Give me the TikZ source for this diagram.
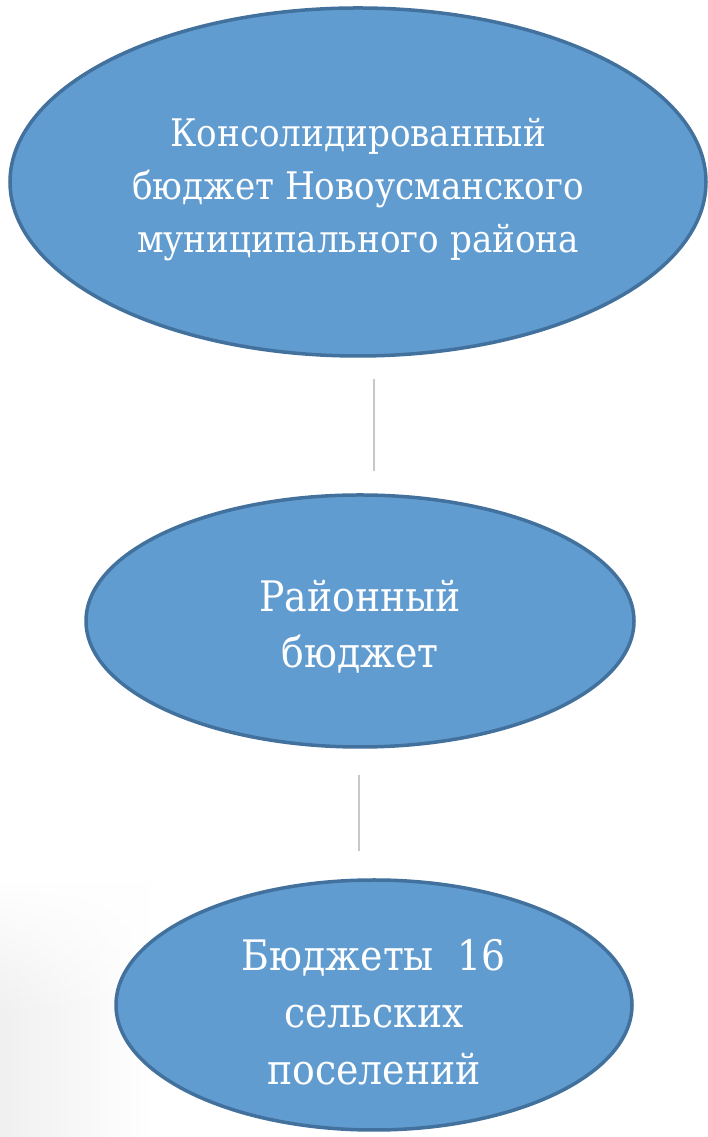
\documentclass[tikz,border=0pt]{standalone}
\usepackage{fontspec}
\newfontfamily\tnr{DejaVu Serif Condensed}
\usetikzlibrary{shapes.geometric,fadings}
\definecolor{ovfill}{RGB}{97,156,209}
\definecolor{ovdraw}{RGB}{65,113,156}
\definecolor{conn}{RGB}{200,200,200}
\tikzset{
  oval/.style={ellipse, fill=ovfill, draw=ovdraw, line width=3.5pt, inner sep=0pt},
  txt/.style={text=white, align=center, inner sep=0pt},
  link/.style={draw=conn, line width=2pt}
}
\begin{document}
\begin{tikzpicture}[x=1pt,y=1pt]
\useasboundingbox (0,0) rectangle (708,1137);
\fill[white] (0,0) rectangle (708,1137);
\fill[black!6, path fading=east] (0,0) rectangle (150,255);
\fill[white, path fading=south] (0,120) rectangle (150,257);
\node[oval, minimum width=696pt, minimum height=348pt] (a) at (358,955) {};
\node[txt, font=\tnr\fontsize{38}{53}\selectfont] (at) at ([yshift=-8pt]a.center) {Консолидированный\\бюджет Новоусманского\\муниципального района};
\node[oval, minimum width=548pt, minimum height=252pt] (b) at (360,516) {};
\node[txt, font=\tnr\fontsize{42}{56}\selectfont] (bt) at ([yshift=-6pt]b.center) {Районный\\бюджет};
\node[oval, minimum width=516pt, minimum height=250pt] (c) at (374,132) {};
\node[txt, font=\tnr\fontsize{42}{57}\selectfont] (ct) at ([yshift=-7pt]c.center) {Бюджеты\ \ 16\\сельских\\поселений};
\coordinate (a1) at (374,758);
\coordinate (a2) at (374,666);
\coordinate (b1) at (359,362);
\coordinate (b2) at (359,286);
\draw[link] (a1) -- (a2);
\draw[link] (b1) -- (b2);
\end{tikzpicture}
\end{document}
